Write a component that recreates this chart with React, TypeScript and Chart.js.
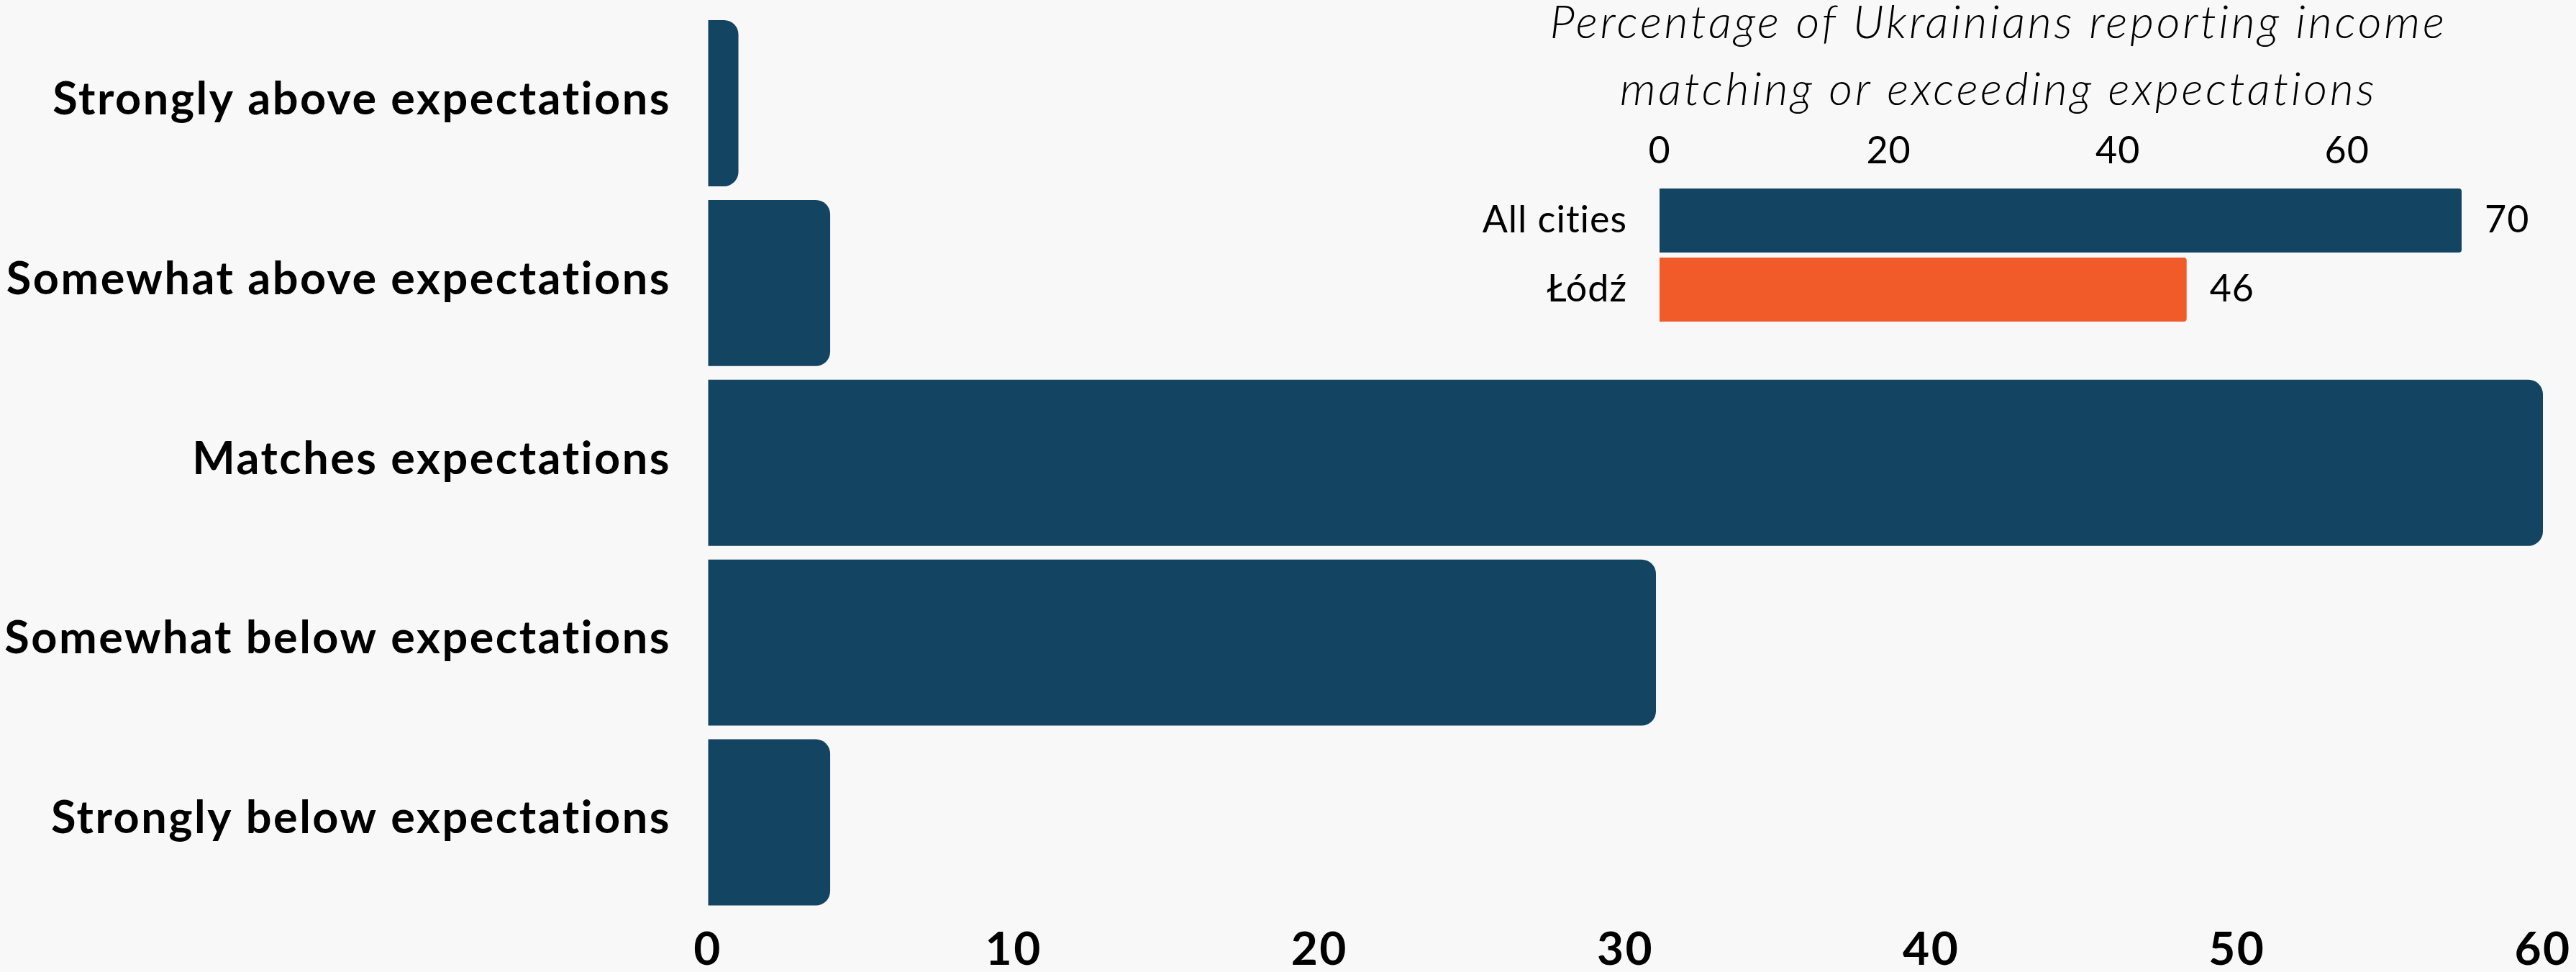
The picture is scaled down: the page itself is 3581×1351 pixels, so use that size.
import React, { useEffect, useRef } from "react";
import { Chart, registerables } from "chart.js";

Chart.register(...registerables);

const categories = [
  "Strongly above expectations",
  "Somewhat above expectations",
  "Matches expectations",
  "Somewhat below expectations",
  "Strongly below expectations",
];
const shares = [1, 4, 60, 31, 4];
const mainTickStep = 10;
const mainMax = 60;

const insetCategories = ["All cities", "Łódź"];
const insetValues = [70, 46];
const insetColors = ["#134462", "#F15A29"];
const insetTitle = [
  "Percentage of Ukrainians reporting income",
  "matching or exceeding expectations",
];
const insetTickStep = 20;
const insetMax = 70;

const BLUE = "#134462";
const BG = "#F8F8F8";
const FONT = "Lato";

function spacingPlugin(px: string) {
  const apply = (chart: any) => {
    chart.ctx.letterSpacing = px;
  };
  return {
    id: "spacing",
    beforeUpdate: apply,
    beforeLayout: apply,
    beforeDraw: apply,
  };
}

const valueLabels = {
  id: "valueLabels",
  afterDatasetsDraw(chart: any) {
    const ctx = chart.ctx;
    const meta = chart.getDatasetMeta(0);
    ctx.save();
    ctx.font = `400 52px ${FONT}`;
    ctx.fillStyle = "#000";
    ctx.textAlign = "left";
    ctx.textBaseline = "middle";
    meta.data.forEach((el: any, i: number) => {
      ctx.fillText(String(chart.data.datasets[0].data[i]), el.x + 32, el.y);
    });
    ctx.restore();
  },
};

const insetTitlePlugin = {
  id: "insetTitle",
  afterDraw(chart: any) {
    const ctx = chart.ctx;
    ctx.save();
    ctx.font = `italic 300 64px ${FONT}`;
    ctx.letterSpacing = "3.7px";
    ctx.fillStyle = "#000";
    ctx.textAlign = "center";
    ctx.textBaseline = "alphabetic";
    const cx = 803;
    insetTitle.forEach((line, i) => {
      ctx.fillText(line, cx, 73 + i * 93);
    });
    ctx.restore();
  },
};

export default function App() {
  const mainRef = useRef<HTMLCanvasElement>(null);
  const insetRef = useRef<HTMLCanvasElement>(null);

  useEffect(() => {
    document.body.style.margin = "0";
    document.body.style.background = BG;
    const main = new Chart(mainRef.current!, {
      type: "bar",
      data: {
        labels: categories,
        datasets: [
          {
            data: shares,
            backgroundColor: BLUE,
            borderRadius: 20,
            borderSkipped: "start",
            barPercentage: 0.924,
            categoryPercentage: 1,
          },
        ],
      },
      plugins: [spacingPlugin("2.5px")],
      options: {
        indexAxis: "y",
        animation: false,
        responsive: false,
        maintainAspectRatio: false,
        layout: { padding: { top: 18.5, right: 46, left: 0, bottom: 0 } },
        plugins: { legend: { display: false }, tooltip: { enabled: false }, title: { display: false } },
        scales: {
          x: {
            min: 0,
            max: mainMax,
            grid: { display: true, drawOnChartArea: false, drawTicks: true, tickLength: 14, color: "rgba(0,0,0,0)" },
            border: { display: false },
            ticks: {
              stepSize: mainTickStep,
              color: "#000",
              padding: 0,
              font: { family: FONT, size: 64, weight: "bold" },
            },
            afterFit(scale: any) {
              scale.height = 83;
            },
          },
          y: {
            grid: { display: true, drawOnChartArea: false, drawTicks: true, tickLength: 51, color: "rgba(0,0,0,0)" },
            border: { display: false },
            ticks: {
              color: "#000",
              padding: 0,
              labelOffset: -5,
              font: { family: FONT, size: 63, weight: "bold", lineHeight: 0.5 },
            },
            afterFit(scale: any) {
              scale.width = 984;
            },
          },
        },
      },
    });

    const inset = new Chart(insetRef.current!, {
      type: "bar",
      data: {
        labels: insetCategories,
        datasets: [
          {
            data: insetValues,
            backgroundColor: insetColors,
            borderRadius: 4,
            borderSkipped: "start",
            barPercentage: 0.927,
            categoryPercentage: 1,
          },
        ],
      },
      plugins: [spacingPlugin("1px"), valueLabels, insetTitlePlugin],
      options: {
        indexAxis: "y",
        animation: false,
        responsive: false,
        maintainAspectRatio: false,
        layout: { padding: { top: 190.5, right: 159, left: 0, bottom: 19.5 } },
        plugins: {
          legend: { display: false },
          tooltip: { enabled: false },
          title: { display: false },
        },
        scales: {
          x: {
            position: "top",
            min: 0,
            max: insetMax,
            grid: { display: false, drawTicks: false },
            border: { display: false },
            ticks: {
              stepSize: insetTickStep,
              color: "#000",
              padding: 17.3,
              font: { family: FONT, size: 52, weight: "400" },
              callback: (v: any) => (Number(v) % insetTickStep === 0 ? String(v) : ""),
            },
            afterFit(scale: any) {
              scale.height = 88;
            },
          },
          y: {
            grid: { display: true, drawOnChartArea: false, drawTicks: true, tickLength: 45, color: "rgba(0,0,0,0)" },
            border: { display: false },
            ticks: {
              color: "#000",
              padding: 0,
              font: { family: FONT, size: 52, weight: "400", lineHeight: 0.5 },
            },
            afterFit(scale: any) {
              scale.width = 332;
            },
          },
        },
      },
    });

    return () => {
      main.destroy();
      inset.destroy();
    };
  }, []);

  return (
    <div style={{ position: "relative", width: 3581, height: 1351, overflow: "hidden", background: BG }}>
      <canvas ref={mainRef} width={3581} height={1351} style={{ position: "absolute", left: 0, top: 0, width: 3581, height: 1351 }} />
      <canvas ref={insetRef} width={1606} height={490} style={{ position: "absolute", left: 1975, top: -20, width: 1606, height: 490 }} />
    </div>
  );
}
